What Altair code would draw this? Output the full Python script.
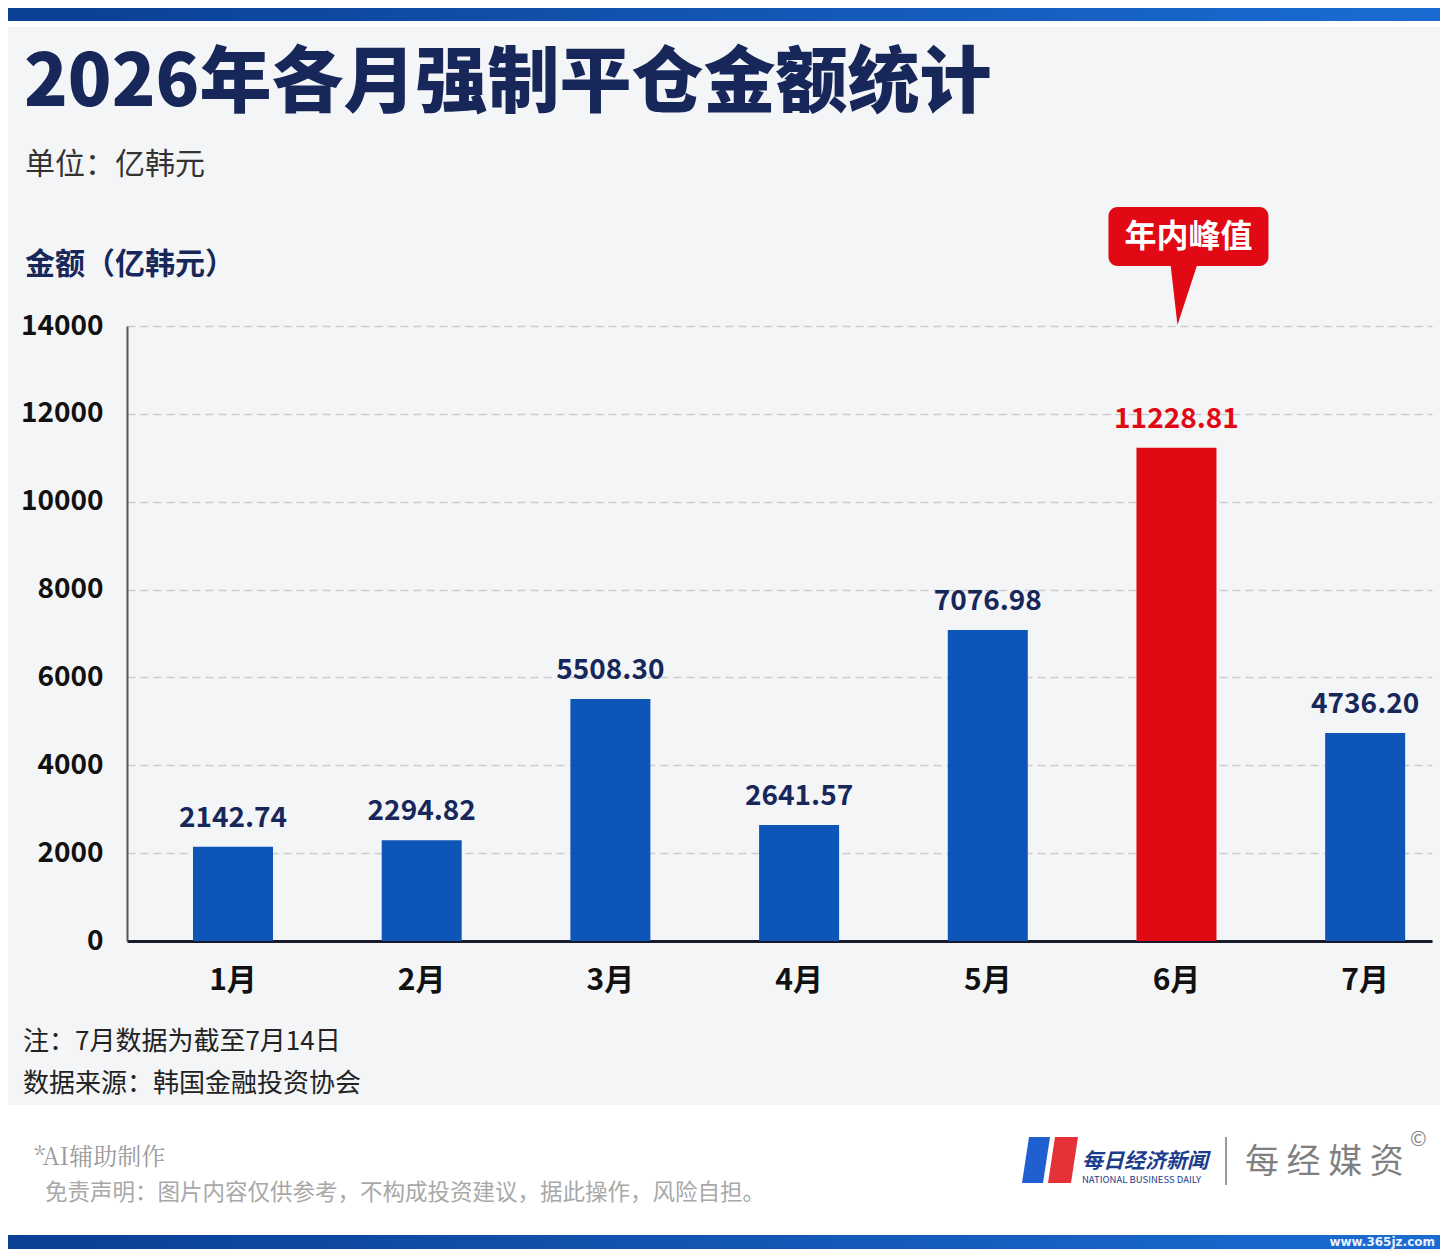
import altair as alt
import pandas as pd

# ---- data ----
months = ["1月", "2月", "3月", "4月", "5月", "6月", "7月"]
values = [2142.74, 2294.82, 5508.30, 2641.57, 7076.98, 11228.81, 4736.20]
y_ticks = [0, 2000, 4000, 6000, 8000, 10000, 12000, 14000]

title_text = "2026年各月强制平仓金额统计"
unit_text = "单位：亿韩元"
axis_title_text = "金额（亿韩元）"
peak_text = "年内峰值"
note_text = "注：7月数据为截至7月14日"
source_text = "数据来源：韩国金融投资协会"
ai_text = "*AI辅助制作"
disclaimer_text = "免责声明：图片内容仅供参考，不构成投资建议，据此操作，风险自担。"

df = pd.DataFrame({"month": months, "value": values})

FONT = "Noto Sans CJK SC"
BLUE = "#0d55b7"
RED = "#e10a14"
NAVY = "#17275a"

W, H = 1305, 615
PAD = {"left": 119, "top": 318, "right": 8, "bottom": 308}

xscale = alt.Scale(domain=months, paddingInner=0.576, paddingOuter=0.246, align=0.711)
x_enc = alt.X(
    "month:N",
    sort=months,
    scale=xscale,
    axis=alt.Axis(
        title=None,
        labelFontSize=30,
        labelFont=FONT,
        labelFontWeight="bold",
        labelColor="#111111",
        labelPadding=24,
        labelAngle=0,
        ticks=False,
        domainColor="#1a1a2e",
        domainWidth=3,
        grid=False,
    ),
)
y_enc = alt.Y(
    "value:Q",
    scale=alt.Scale(domain=[0, 14000], nice=False, zero=True),
    axis=alt.Axis(
        title=None,
        values=y_ticks,
        format="d",
        labelFontSize=28,
        labelFont=FONT,
        labelFontWeight="bold",
        labelColor="#111111",
        labelPadding=24,
        ticks=False,
        domainColor="#555555",
        domainWidth=2,
        grid=True,
        gridColor="#cdcdcd",
        gridDash=[8, 5],
        gridWidth=1.5,
    ),
)

base = alt.Chart(df).transform_joinaggregate(maxv="max(value)")
is_peak = "datum.value == datum.maxv"

bars = base.mark_bar().encode(
    x=x_enc,
    y=y_enc,
    color=alt.condition(is_peak, alt.value(RED), alt.value(BLUE)),
)

labels = base.mark_text(
    baseline="bottom", dy=-14, fontSize=28, font=FONT, fontWeight="bold"
).encode(
    x=alt.X("month:N", sort=months, scale=xscale),
    y=alt.Y("value:Q"),
    text=alt.Text("value:Q", format=".2f"),
    color=alt.condition(is_peak, alt.value(RED), alt.value(NAVY)),
)

peak = base.transform_filter(is_peak)
callout_box = peak.mark_bar(width=160, cornerRadius=9, xOffset=12, color=RED).encode(
    x=alt.X("month:N", sort=months, scale=xscale),
    y=alt.value(-119),
    y2=alt.value(-60),
)
callout_tip = peak.mark_point(
    shape="M -6 -2 L 21 -2 L 1 59 Z", size=4, filled=True, fill=RED, strokeWidth=0, opacity=1
).encode(
    x=alt.X("month:N", sort=months, scale=xscale),
    y=alt.value(-60),
)
callout_text = peak.mark_text(
    fontSize=32, font=FONT, fontWeight="bold", color="white", xOffset=12, baseline="middle"
).encode(
    x=alt.X("month:N", sort=months, scale=xscale),
    y=alt.value(-89),
    text=alt.value(peak_text),
)


def one():
    return alt.Chart(alt.Data(values=[{"d": 1}]))


def band(y0, y1, color):
    return one().mark_rect(color=color).encode(
        x=alt.value(-119), x2=alt.value(1313), y=alt.value(y0), y2=alt.value(y1)
    )


grad = alt.LinearGradient(
    gradient="linear",
    stops=[alt.GradientStop(color="#0a3f93", offset=0), alt.GradientStop(color="#1a6cd2", offset=1)],
    x1=0, x2=1, y1=0, y2=0,
)

top_band = band(-318, -305, grad)
top_strip = band(-305, -299, "#ffffff")
footer_bg = band(779, 909, "#ffffff")
bottom_band = band(909, 923, grad)


def txt(s, x, y, size, color, weight="normal", align="left", font=FONT, style="normal"):
    return one().mark_text(
        text=s, align=align, baseline="middle", fontSize=size, color=color,
        fontWeight=weight, font=font, fontStyle=style,
    ).encode(x=alt.value(x), y=alt.value(y))


title = txt(title_text, -103, -242, 72, NAVY, weight=900)
unit = txt(unit_text, -102, -161, 30, "#333333")
axis_title = txt(axis_title_text, -102, -61, 30, NAVY, weight="bold")
note = txt(note_text, -104, 716, 26, "#222222")
source = txt(source_text, -104, 758, 26, "#222222")
ai = txt(ai_text, -93, 832, 24, "#9a9a9a", font="Noto Serif CJK SC, Liberation Serif, serif")
disclaimer = txt(disclaimer_text, -82, 867, 22.5, "#a8a8a8")

logo_blue = one().mark_point(
    shape="M -21 -23 L 0 -23 L -7 23 L -28 23 Z", size=4, filled=True, fill="#1f5fd0", strokeWidth=0, opacity=1
).encode(x=alt.value(923), y=alt.value(834))
logo_red = one().mark_point(
    shape="M 5 -23 L 28 -23 L 21 23 L -2 23 Z", size=4, filled=True, fill="#e53238", strokeWidth=0, opacity=1
).encode(x=alt.value(923), y=alt.value(834))
logo_cn = txt("每日经济新闻", 955, 836, 21, "#1c3c8c", weight="bold", style="italic")
logo_en = txt("NATIONAL BUSINESS DAILY", 955, 854, 9.5, "#1c3c8c")
sep = one().mark_rule(color="#9a9a9a", strokeWidth=2).encode(
    x=alt.value(1099), y=alt.value(811), y2=alt.value(859)
)
brand = txt("每 经 媒 资", 1118, 837, 34, "#808080")
copy = txt("©", 1283, 814, 20, "#888888")
site = txt("www.365jz.com", 1308, 916, 12, "#e8f0ff", weight="bold", align="right",
           font="DejaVu Sans")

chart = alt.layer(
    top_band, top_strip, footer_bg, bottom_band,
    bars, labels, callout_box, callout_tip, callout_text,
    title, unit, axis_title, note, source, ai, disclaimer,
    logo_blue, logo_red, logo_cn, logo_en, sep, brand, copy, site,
).properties(
    width=W,
    height=H,
    autosize=alt.AutoSizeParams(type="none"),
    padding=PAD,
    background="#f4f5f7",
).configure_view(stroke=None)

chart.save("out.html", embed_options={"renderer": "svg", "actions": False})
